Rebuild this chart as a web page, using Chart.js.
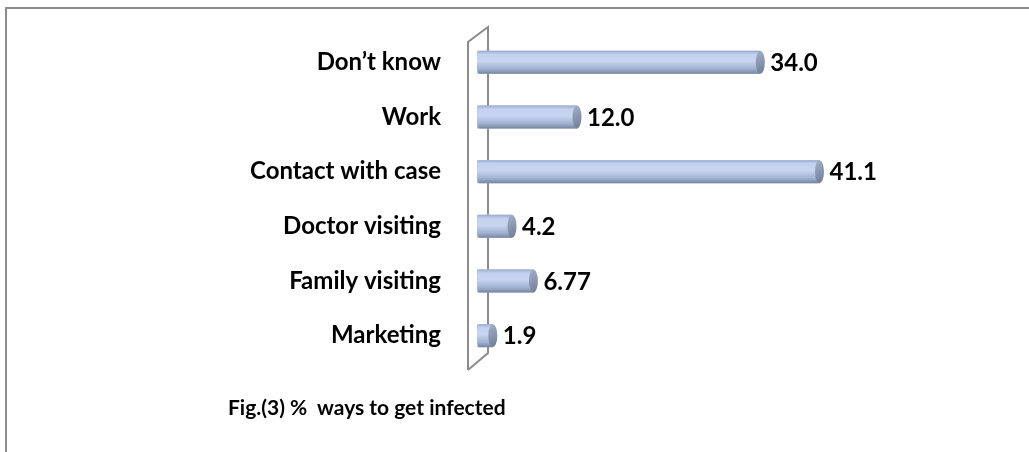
<!DOCTYPE html>
<html>
<head>
<meta charset="utf-8">
<script src="https://cdn.jsdelivr.net/npm/chart.js@4.4.0/dist/chart.umd.min.js"></script>
<style>
  body { margin: 0; background: #fff; }
  #wrap { position: relative; width: 1029px; height: 452px; overflow: hidden; }
  #frame {
    position: absolute; left: 5px; top: 7px; width: 1030px; height: 450px;
    border-top: 2px solid #8c8c8c; border-left: 2px solid #8c8c8c;
  }
  #caption {
    position: absolute; left: 228px; top: 394px;
    font: bold 21px Lato, sans-serif; color: #000; white-space: pre;
  }
</style>
</head>
<body>
<div id="wrap">
  <div id="frame"></div>
  <canvas id="barChart" width="1029" height="452"></canvas>
  <div id="caption">Fig.(3) %  ways to get infected</div>
</div>
<script>
const categories = ["Don’t know", "Work", "Contact with case", "Doctor visiting", "Family visiting", "Marketing"];
const percentValues = [34.0, 12.0, 41.1, 4.2, 6.77, 1.9];
const valueLabels = ["34.0", "12.0", "41.1", "4.2", "6.77", "1.9"];

const labelFont = { family: "Lato, sans-serif", size: 24, weight: "bold" };

// the grey 3d "wall" behind the bars
const wallPlugin = {
  id: "wall",
  beforeDatasetsDraw(chart) {
    const { ctx, chartArea } = chart;
    const x0 = chart.scales.x.getPixelForValue(0);
    const front = x0 - 9, back = x0 + 11;
    ctx.save();
    ctx.strokeStyle = "#8c8c8c";
    ctx.lineWidth = 2;
    ctx.beginPath();
    ctx.moveTo(front, chartArea.bottom + 7);
    ctx.lineTo(front, chartArea.top + 7);
    ctx.lineTo(back, chartArea.top - 8);
    ctx.lineTo(back, chartArea.bottom - 10);
    ctx.lineTo(front, chartArea.bottom + 7);
    ctx.stroke();
    ctx.restore();
  },
};

// cylinder shading + value labels
const cylinderPlugin = {
  id: "cylinder",
  afterDatasetsDraw(chart) {
    const { ctx } = chart;
    const meta = chart.getDatasetMeta(0);
    meta.data.forEach((bar, i) => {
      const { x, y, base, height } = bar.getProps(["x", "y", "base", "height"], true);
      const top = y - height / 2, bot = y + height / 2;
      const g = ctx.createLinearGradient(0, top, 0, bot);
      g.addColorStop(0, "#9aaacb");
      g.addColorStop(0.15, "#c3d1ee");
      g.addColorStop(0.45, "#c8d5f0");
      g.addColorStop(0.8, "#9fafcf");
      g.addColorStop(1, "#76849f");
      ctx.save();
      ctx.fillStyle = g;
      ctx.beginPath();
      ctx.moveTo(base + 2, top);
      ctx.lineTo(x, top);
      ctx.lineTo(x, bot);
      ctx.lineTo(base + 2, bot);
      ctx.ellipse(base + 2, y, 2, height / 2, 0, Math.PI / 2, Math.PI * 1.5);
      ctx.closePath();
      ctx.fill();
      // end cap
      const cg = ctx.createLinearGradient(x - 5, top, x + 5, bot);
      cg.addColorStop(0, "#a3b0ca");
      cg.addColorStop(1, "#6f7c96");
      ctx.fillStyle = cg;
      ctx.beginPath();
      ctx.ellipse(x, y, 4.5, height / 2, 0, 0, Math.PI * 2);
      ctx.fill();
      // value label
      ctx.fillStyle = "#000";
      ctx.font = `${labelFont.weight} ${labelFont.size}px ${labelFont.family}`;
      ctx.textAlign = "left";
      ctx.textBaseline = "middle";
      ctx.fillText(valueLabels[i], x + 10, y + 1);
      ctx.restore();
    });
  },
};

new Chart(document.getElementById("barChart"), {
  type: "bar",
  data: {
    labels: categories,
    datasets: [
      {
        data: percentValues,
        backgroundColor: "#b3c2e2",
        barPercentage: 0.42,
        categoryPercentage: 1,
      },
    ],
  },
  options: {
    indexAxis: "y",
    responsive: false,
    animation: false,
    layout: { padding: { top: 35, bottom: 89, right: 52, left: 0 } },
    plugins: { legend: { display: false }, tooltip: { enabled: false }, title: { display: false } },
    scales: {
      x: { display: false, min: 0, max: 60 },
      y: {
        grid: { display: false, drawTicks: false },
        border: { display: false },
        ticks: { color: "#000", font: labelFont, padding: 36 },
        afterFit(scale) {
          scale.width = 477;
          scale.paddingTop = 0;
          scale.paddingBottom = 0;
        },
      },
    },
  },
  plugins: [wallPlugin, cylinderPlugin],
});
</script>
</body>
</html>
